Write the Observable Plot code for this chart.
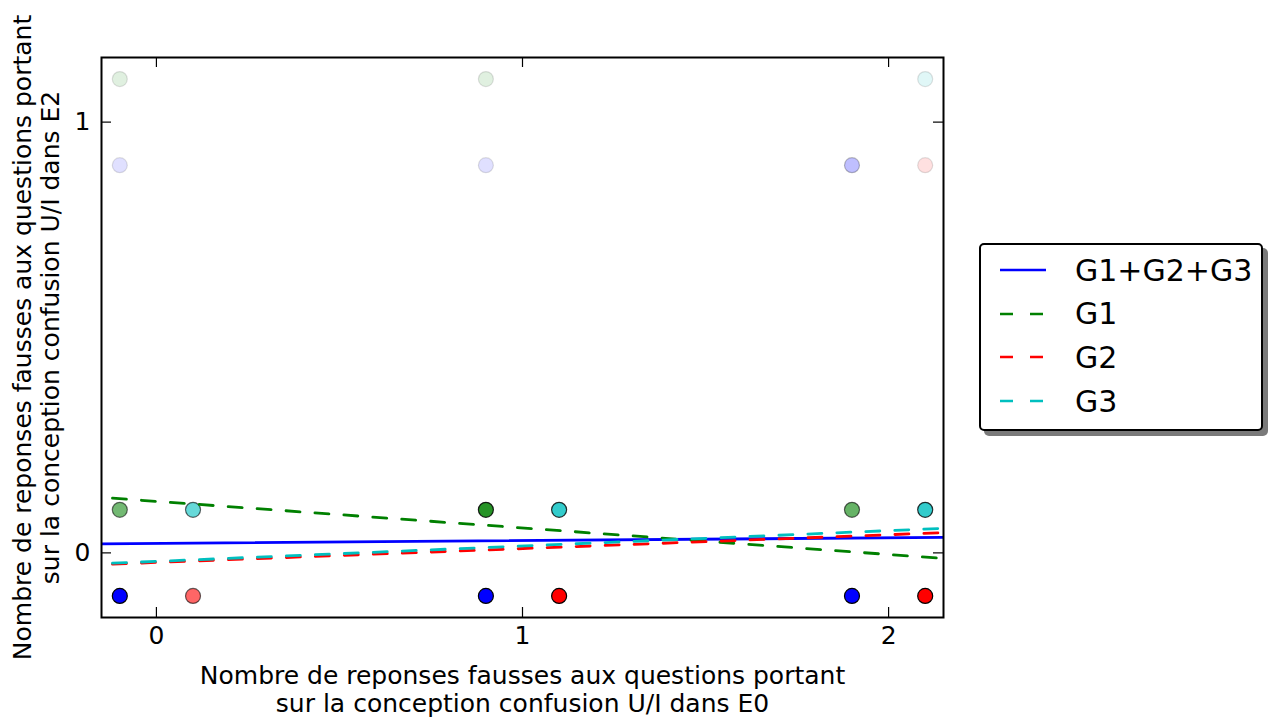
<!DOCTYPE html>
<html>
<head>
<meta charset="utf-8">
<script src="https://cdn.jsdelivr.net/npm/d3@7"></script>
<script src="https://cdn.jsdelivr.net/npm/@observablehq/plot@0.6"></script>
<style>
  body { margin: 0; background: #fff; }
  #wrap { position: relative; width: 1271px; height: 720px; }
  #legend { position: absolute; left: 979px; top: 243px; width: 284px; height: 188px; box-sizing: border-box;
    border: 2px solid #000; border-radius: 5px; background: #fff; box-shadow: 5px 5px 0 #7a7a7a;
    font-family: "DejaVu Sans", sans-serif; font-size: 30px; }
  .row { position: absolute; left: 0; height: 40px; display: flex; align-items: center; }
  .row svg { margin-left: 19px; margin-right: 29px; }
</style>
</head>
<body>
<div id="wrap"></div>
<script>
// ---- data ----
const seriesNames = ["G1+G2+G3", "G1", "G2", "G3"];
const seriesColors = ["#0000ff", "#008000", "#ff0000", "#00bfbf"];
const seriesDash = [null, "14,15", "14,15", "14,15"];

// scatter points per series (x, y, alpha)
const allX = [-0.1, 0.9, 1.9, -0.1, 0.9, 1.9];
const allY = [-0.1, -0.1, -0.1, 0.9, 0.9, 0.9];
const allA = [1, 1, 1, 0.12, 0.12, 0.25];

const g1X = [-0.1, 0.9, 1.9, -0.1, 0.9];
const g1Y = [0.1, 0.1, 0.1, 1.1, 1.1];
const g1A = [0.55, 0.85, 0.6, 0.12, 0.12];

const g2X = [0.1, 1.1, 2.1, 2.1];
const g2Y = [-0.1, -0.1, -0.1, 0.9];
const g2A = [0.6, 1, 1, 0.12];

const g3X = [0.1, 1.1, 2.1, 2.1];
const g3Y = [0.1, 0.1, 0.1, 1.1];
const g3A = [0.6, 0.8, 0.8, 0.12];

// regression lines: endpoints
const allFitX = [-0.15, 2.15], allFitY = [0.021, 0.036];
const g1FitX = [-0.12, 2.15], g1FitY = [0.127, -0.013];
const g2FitX = [-0.12, 2.15], g2FitY = [-0.026, 0.047];
const g3FitX = [-0.12, 2.15], g3FitY = [-0.024, 0.057];

const xDomain = [-0.15, 2.15];
const yDomain = [-0.15, 1.15];
const xTicks = [0, 1, 2];
const yTicks = [0, 1];
const xLabel = "Nombre de reponses fausses aux questions portant\nsur la conception confusion U/I dans E0";
const yLabel = "Nombre de reponses fausses aux questions portant\nsur la conception confusion U/I dans E2";

// ---- build tables ----
const ptSets = [[allX, allY, allA], [g1X, g1Y, g1A], [g2X, g2Y, g2A], [g3X, g3Y, g3A]];
const points = ptSets.flatMap(([xs, ys, as], s) => xs.map((x, i) => ({x, y: ys[i], a: as[i], s})));
const fitSets = [[allFitX, allFitY], [g1FitX, g1FitY], [g2FitX, g2FitY], [g3FitX, g3FitY]];
const lines = fitSets.map(([xs, ys], s) => xs.map((x, i) => ({x, y: ys[i], s})));

const font = "'DejaVu Sans', sans-serif";

const chart = Plot.plot({
  width: 1271, height: 720,
  marginLeft: 101, marginRight: 328, marginTop: 57, marginBottom: 103,
  style: {fontFamily: font, fontSize: "25px", color: "#000", background: "#fff"},
  x: {domain: xDomain},
  y: {domain: yDomain},
  marks: [
    Plot.dot(points, {x: "x", y: "y", r: 7.5, fill: d => seriesColors[d.s], fillOpacity: "a",
      stroke: "black", strokeOpacity: "a", strokeWidth: 1.2}),
    ...lines.map((ln, s) => Plot.line(ln, {x: "x", y: "y", stroke: seriesColors[s], strokeWidth: 2.8,
      strokeDasharray: seriesDash[s], clip: true})),
    Plot.tickX(xTicks, {x: d => d, insetTop: 550, stroke: "black", strokeWidth: 1.2}),
    Plot.tickX(xTicks, {x: d => d, insetBottom: 550, stroke: "black", strokeWidth: 1.2}),
    Plot.tickY(yTicks, {y: d => d, insetLeft: 832, stroke: "black", strokeWidth: 1.2}),
    Plot.tickY(yTicks, {y: d => d, insetRight: 832, stroke: "black", strokeWidth: 1.2}),
    Plot.axisX(xTicks, {tickSize: 0, tickPadding: 9, label: null, fontSize: 25, tickFormat: d => String(d)}),
    Plot.axisY(yTicks, {tickSize: 0, tickPadding: 11, label: null, fontSize: 25, tickFormat: d => String(d)}),
    Plot.text([xLabel], {frameAnchor: "bottom", dy: 47, lineAnchor: "top", textAnchor: "middle", lineHeight: 1.12, fontSize: 25, text: d => d}),
    Plot.text([yLabel], {frameAnchor: "left", dx: -65, rotate: -90, lineAnchor: "middle", textAnchor: "middle", lineHeight: 1.12, fontSize: 25, text: d => d}),
    Plot.frame({stroke: "black", strokeWidth: 2})
  ]
});
const wrap = document.getElementById("wrap");
wrap.appendChild(chart);

// legend
const legend = document.createElement("div");
legend.id = "legend";
seriesNames.forEach((name, i) => {
  const row = document.createElement("div");
  row.className = "row";
  row.style.top = (5 + i * 43.7) + "px";
  const ns = "http://www.w3.org/2000/svg";
  const sw = document.createElementNS(ns, "svg");
  sw.setAttribute("width", 46); sw.setAttribute("height", 6);
  const l = document.createElementNS(ns, "line");
  l.setAttribute("x1", 0); l.setAttribute("x2", 46); l.setAttribute("y1", 3); l.setAttribute("y2", 3);
  l.setAttribute("stroke", seriesColors[i]); l.setAttribute("stroke-width", 2.5);
  if (seriesDash[i]) l.setAttribute("stroke-dasharray", "13,17");
  sw.appendChild(l);
  const t = document.createElement("span");
  t.textContent = name;
  row.appendChild(sw); row.appendChild(t);
  legend.appendChild(row);
});
wrap.appendChild(legend);
</script>
</body>
</html>
